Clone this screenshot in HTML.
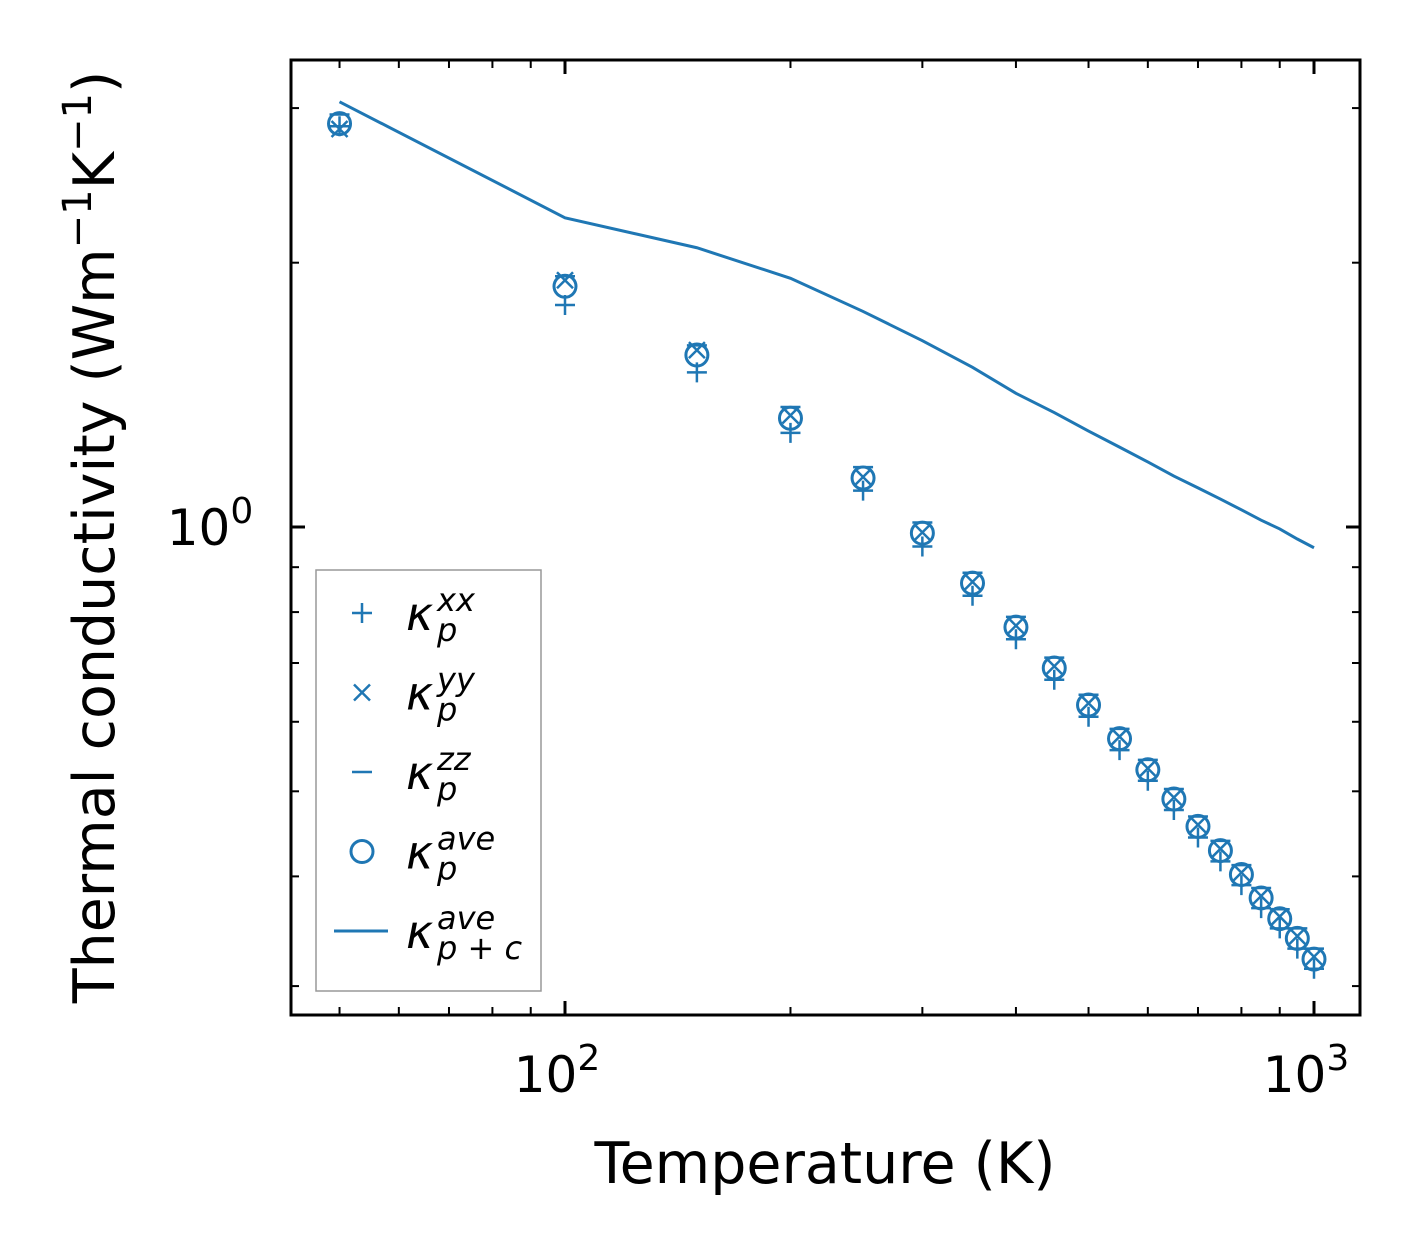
<!DOCTYPE html>
<html><head><meta charset="utf-8">
<style>body{margin:0;background:#fff}svg{display:block}text{font-family:"DejaVu Sans","Liberation Sans",sans-serif}</style>
</head><body>
<svg id="chart" width="1421" height="1254" xmlns="http://www.w3.org/2000/svg"></svg>
<script>
const temps=[50,100,150,200,250,300,350,400,450,500,550,600,650,700,750,800,850,900,950,1000];
const kAve=[2.88,1.88,1.57,1.33,1.137,0.984,0.863,0.769,0.691,0.627,0.574,0.529,0.490,0.456,0.428,0.402,0.378,0.358,0.340,0.322];
const kXX=[2.86,1.79,1.50,1.28,1.10,0.95,0.835,0.745,0.67,0.608,0.557,0.514,0.476,0.443,0.416,0.391,0.368,0.349,0.331,0.314];
const kYY=[2.84,1.91,1.59,1.34,1.14,0.986,0.866,0.772,0.694,0.630,0.577,0.531,0.492,0.458,0.430,0.404,0.380,0.360,0.342,0.324];
const kZZ=[2.95,1.93,1.61,1.37,1.17,1.012,0.887,0.79,0.71,0.644,0.589,0.543,0.503,0.468,0.439,0.412,0.388,0.367,0.349,0.331];
const kTot=[3.05,2.25,2.08,1.92,1.76,1.63,1.52,1.42,1.35,1.286,1.233,1.186,1.143,1.108,1.076,1.046,1.018,0.995,0.969,0.947];
const xTicks=[100,1000];
const xTickLabels=["2","3"];
const yTicks=[1];

const NS="http://www.w3.org/2000/svg";
const svg=document.getElementById('chart');
const L=291,R=1360,T=60,B=1015,C='#1f77b4';
const X=t=>565+749*(Math.log10(t)-2);
const Y=v=>527-878*Math.log10(v);
function mk(tag,at,parent){const e=document.createElementNS(NS,tag);for(const k in at)e.setAttribute(k,at[k]);(parent||svg).appendChild(e);return e;}

for(let d=1;d<=3;d++)for(let m=1;m<10;m++){const t=m*Math.pow(10,d);const x=X(t);if(x<L||x>R)continue;const len=m===1?14:8;
 const a=mk('line',{x1:x,x2:x,y1:B,y2:B-len,stroke:'#000','stroke-width':m===1?3:2});
 
 const b=mk('line',{x1:x,x2:x,y1:T,y2:T+len,stroke:'#000','stroke-width':m===1?3:2});
 }
for(let d=-1;d<=0;d++)for(let m=1;m<10;m++){const v=m*Math.pow(10,d);const y=Y(v);if(y<T||y>B)continue;const len=m===1?14:8;
 const a=mk('line',{x1:L,x2:L+len,y1:y,y2:y,stroke:'#000','stroke-width':m===1?3:2});
 
 const b=mk('line',{x1:R,x2:R-len,y1:y,y2:y,stroke:'#000','stroke-width':m===1?3:2});
 }

xTicks.forEach((t,i)=>{const g=mk('text',{x:X(t)-8,y:1092,'font-size':50,'text-anchor':'middle'});
 
 g.textContent='10';const s=mk('tspan',{dy:-22,'font-size':36},g);s.textContent=xTickLabels[i];});
yTicks.forEach(v=>{const g=mk('text',{x:210,y:Y(v)+18,'font-size':50,'text-anchor':'middle'});
 
 g.textContent='10';const s=mk('tspan',{dy:-22,'font-size':36},g);s.textContent='0';});

const pl=mk('polyline',{points:temps.map((t,i)=>X(t)+','+Y(kTot[i])).join(' '),fill:'none',stroke:C,'stroke-width':3});


function plus(x,y,p){mk('path',{d:`M${x-10},${y}h20M${x},${y-10}v20`,stroke:C,'stroke-width':2.5,fill:'none'},p);}
function cross(x,y,p){mk('path',{d:`M${x-8},${y-8}l16,16M${x-8},${y+8}l16,-16`,stroke:C,'stroke-width':2.5,fill:'none'},p);}
function hbar(x,y,p){mk('path',{d:`M${x-10},${y}h20`,stroke:C,'stroke-width':2.5,fill:'none'},p);}
function circ(x,y,p){mk('circle',{cx:x,cy:y,r:11,stroke:C,'stroke-width':3,fill:'none'},p);}
temps.forEach((t,i)=>{const x=X(t);
 const g1=mk('g',{});plus(x,Y(kXX[i]),g1);
 const g2=mk('g',{});cross(x,Y(kYY[i]),g2);
 const g3=mk('g',{});hbar(x,Y(kZZ[i]),g3);
 const g4=mk('g',{});circ(x,Y(kAve[i]),g4);
});

const fr=mk('rect',{x:L,y:T,width:R-L,height:B-T,fill:'none',stroke:'#000','stroke-width':3});


const lg=mk('g',{});
mk('rect',{x:316,y:570,width:225,height:421,fill:'#fff','fill-opacity':0.8,stroke:'#999','stroke-width':1.5},lg);
const ent=[['xx','p',plus],['yy','p',cross],['zz','p',hbar],['ave','p',circ],['ave','p + c',null]];
ent.forEach((e,i)=>{const y=613+i*79.5;const g=mk('g',{},lg);
 
 if(e[2])e[2](362,y,g);else mk('line',{x1:334,x2:388,y1:y,y2:y,stroke:C,'stroke-width':3},g);
 const tx=mk('text',{x:406,y:y+17,'font-size':46,'font-style':'italic'},g);tx.textContent='κ';
 const sup=mk('tspan',{x:437,y:y-2,'font-size':32},tx);sup.textContent=e[0];
 const sub=mk('tspan',{x:437,y:y+28,'font-size':32},tx);sub.textContent=e[1];
});

const xt=mk('text',{x:825,y:1183,'font-size':57,'text-anchor':'middle'});xt.textContent='Temperature (K)';

const yt=mk('text',{x:0,y:0,'font-size':57,'text-anchor':'middle',transform:'translate(114,537) rotate(-90)'});

yt.textContent='Thermal conductivity (Wm';
let s1=mk('tspan',{dy:-23,'font-size':40},yt);s1.textContent='−1';
let s2=mk('tspan',{dy:23},yt);s2.textContent='K';
let s3=mk('tspan',{dy:-23,'font-size':40},yt);s3.textContent='−1';
let s4=mk('tspan',{dy:23},yt);s4.textContent=')';
</script>
</body></html>
